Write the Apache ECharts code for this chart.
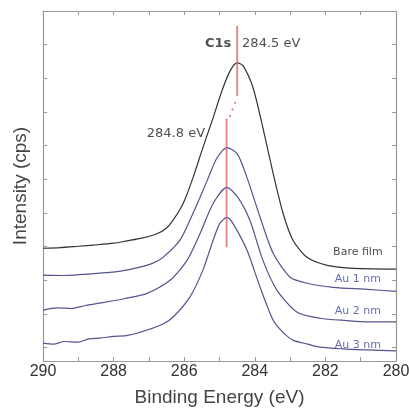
<!DOCTYPE html>
<html>
<head>
<meta charset="utf-8">
<script src="https://cdn.jsdelivr.net/npm/echarts@6/dist/echarts.min.js"></script>
<style>
  html, body { margin: 0; padding: 0; background: #fff; }
  #chart { width: 409px; height: 414px; }
</style>
</head>
<body>
<div id="chart"></div>
<script>
// spectra: [binding energy (eV), intensity (a.u., offset)]
const bareFilm = [
  [290.0, 2.95], [289.5, 2.97], [289.0, 3.01], [288.5, 3.05], [288.0, 3.10], [287.62, 3.17],
  [287.2, 3.25], [286.77, 3.38], [286.5, 3.55], [286.32, 3.78], [286.12, 4.10], [285.98, 4.40],
  [285.75, 5.05], [285.47, 5.94], [285.18, 6.83], [284.93, 7.63], [284.70, 8.22], [284.50, 8.46],
  [284.33, 8.37], [284.05, 7.72], [283.77, 6.53], [283.48, 5.17], [283.20, 3.99], [282.92, 3.19],
  [282.52, 2.68], [281.95, 2.44], [281.30, 2.36], [280.0, 2.33]
];
const au1nm = [
  [290.0, 2.15], [289.4, 2.14], [288.39, 2.21], [287.8, 2.27], [287.25, 2.39], [286.9, 2.50],
  [286.60, 2.68], [286.12, 3.19], [285.75, 3.99], [285.35, 4.96], [285.07, 5.64], [284.79, 5.94],
  [284.50, 5.76], [284.22, 5.05], [283.85, 3.87], [283.48, 2.80], [283.00, 2.09], [282.52, 1.91],
  [281.78, 1.79], [280.82, 1.73], [280.0, 1.67]
];
const au2nm = [
  [290.0, 1.11], [289.6, 1.18], [289.2, 1.16], [288.8, 1.25], [288.39, 1.32], [287.7, 1.45],
  [287.05, 1.61], [286.40, 2.00], [285.92, 2.59], [285.55, 3.39], [285.18, 4.28], [284.79, 4.76],
  [284.48, 4.46], [284.14, 3.78], [283.77, 2.59], [283.37, 1.70], [282.80, 1.05], [282.15, 0.87],
  [281.4, 0.80], [280.82, 0.76], [280.0, 0.76]
];
const au3nm = [
  [290.0, 0.13], [289.7, 0.10], [289.4, 0.18], [289.0, 0.16], [288.7, 0.26], [288.39, 0.28],
  [288.0, 0.33], [287.6, 0.36], [287.05, 0.52], [286.60, 0.70], [286.32, 0.90], [285.84, 1.50],
  [285.47, 2.30], [285.18, 3.19], [284.99, 3.69], [284.79, 3.87], [284.62, 3.69], [284.22, 2.89],
  [283.85, 1.79], [283.48, 0.81], [283.2, 0.45], [282.92, 0.22], [282.5, 0.10], [282.15, 0.01],
  [281.5, -0.04], [280.82, -0.07], [280.0, -0.10]
];
const seriesNames = ['Bare film', 'Au 1 nm', 'Au 2 nm', 'Au 3 nm'];
const seriesData = [bareFilm, au1nm, au2nm, au3nm];
const seriesColors = ['#333333', '#50558f', '#50558f', '#50558f'];
const labelColors = ['#222222', '#3b4a9a', '#3b4a9a', '#3b4a9a'];
// name label anchors at the right side
const nameLabelPos = [[281.08, 2.83], [281.08, 2.03], [281.08, 1.08], [281.08, 0.07]];

// peak marker lines
const peak1 = [[284.5, 9.56], [284.5, 7.48]];
const peakLink = [[284.55, 7.30], [284.75, 6.75]];
const peak2 = [[284.8, 6.80], [284.8, 2.98]];

const xRange = [280, 290];
const yRange = [-0.4, 10];

const chart = echarts.init(document.getElementById('chart'));

const axisLine = { show: true, onZero: false, lineStyle: { color: '#999', width: 1.2 } };
const tick = { show: true, inside: true, length: 4, lineStyle: { color: '#999' } };

const series = seriesData.map((d, i) => ({
  name: seriesNames[i],
  type: 'line',
  data: d,
  showSymbol: false,
  smooth: 0.25,
  lineStyle: { color: seriesColors[i], width: 1.2 },
  z: 3
}));

series.push({
  type: 'scatter',
  data: nameLabelPos.map((p, i) => ({ value: p, name: seriesNames[i], label: { color: labelColors[i] } })),
  symbolSize: 0,
  silent: true,
  label: {
    show: true,
    position: 'inside',
    formatter: p => p.name,
    fontSize: 11,
    fontFamily: 'DejaVu Sans'
  }
});

const red = 'rgba(220,100,100,0.75)';
series.push(
  { type: 'line', data: peak1, showSymbol: false, lineStyle: { color: red, width: 2 }, z: 4 },
  { type: 'line', data: peakLink, showSymbol: false, lineStyle: { color: red, width: 2, type: [2, 5] }, z: 4 },
  { type: 'line', data: peak2, showSymbol: false, lineStyle: { color: red, width: 2 }, z: 4 }
);

series.push({
  type: 'scatter',
  symbolSize: 0,
  silent: true,
  data: [
    { value: [285.04, 9.02], label: { formatter: 'C1s', fontWeight: 'bold', position: 'inside' } },
    { value: [284.36, 9.02], label: { formatter: '284.5 eV', position: 'right', distance: 0 } },
    { value: [285.41, 6.36], label: { formatter: '284.8 eV', position: 'left', distance: 0 } }
  ],
  label: { show: true, fontSize: 13, color: '#222', fontFamily: 'DejaVu Sans' }
});

chart.setOption({
  animation: false,
  grid: { left: 43, right: 13, top: 11, bottom: 53, outerBoundsMode: 'none', containLabel: false },
  xAxis: [{
    type: 'value',
    min: xRange[0], max: xRange[1], interval: 1, inverse: true,
    name: 'Binding Energy (eV)', nameLocation: 'middle', nameGap: 27,
    nameTextStyle: { fontSize: 19, color: '#444', fontFamily: 'Liberation Sans' },
    axisLine, axisTick: tick, splitLine: { show: false },
    axisLabel: {
      fontSize: 16, color: '#333', margin: 3, fontFamily: 'Liberation Sans',
      formatter: v => (v % 2 === 0 ? String(v) : '')
    }
  }, {
    type: 'value', position: 'top',
    min: xRange[0], max: xRange[1], interval: 1, inverse: true,
    axisLine, axisTick: tick, axisLabel: { show: false }, splitLine: { show: false }
  }],
  yAxis: [{
    type: 'value', min: yRange[0], max: yRange[1], splitNumber: 10,
    name: 'Intensity (cps)', nameLocation: 'middle', nameGap: 13,
    nameTextStyle: { fontSize: 19, color: '#444', fontFamily: 'Liberation Sans' },
    axisLine, axisTick: tick, axisLabel: { show: false }, splitLine: { show: false }
  }, {
    type: 'value', position: 'right', min: yRange[0], max: yRange[1], splitNumber: 10,
    axisLine, axisTick: tick, axisLabel: { show: false }, splitLine: { show: false }
  }],
  series
});
</script>
</body>
</html>
